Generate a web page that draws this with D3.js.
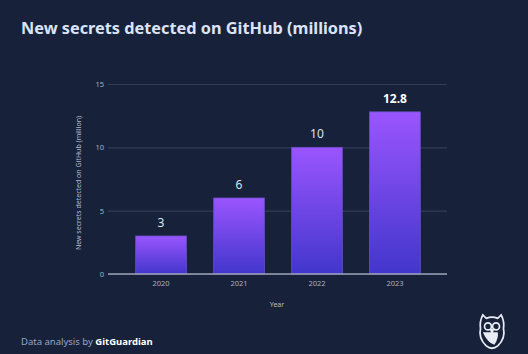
<!DOCTYPE html>
<meta charset="utf-8">
<script src="https://d3js.org/d3.v7.min.js"></script>
<style>
  body { margin:0; background:#17213a; }
  text { font-family: "Noto Sans", sans-serif; }
</style>
<div id="chart"></div>
<script>
const years = ["2020", "2021", "2022", "2023"];
const secrets = [3, 6, 10, 12.8];
const yTicks = [0, 5, 10, 15];

const W = 528, H = 354;
const svg = d3.select("#chart").append("svg")
    .attr("width", W).attr("height", H);

svg.append("rect").attr("width", W).attr("height", H).attr("fill", "#17213a");

const defs = svg.append("defs");
const grad = defs.append("linearGradient")
    .attr("id", "barGrad").attr("x1", 0).attr("y1", 0).attr("x2", 0).attr("y2", 1);
grad.append("stop").attr("offset", "0%").attr("stop-color", "#9a55ff");
grad.append("stop").attr("offset", "100%").attr("stop-color", "#4236cc");

// title
svg.append("text")
    .attr("x", 21).attr("y", 34)
    .attr("font-size", 16.3).attr("font-weight", 700)
    .attr("fill", "#dbe4f6")
    .text("New secrets detected on GitHub (millions)");

const x = d3.scaleBand().domain(years).range([135.7, 420.3])
    .paddingInner(0.35).paddingOuter(0);
const y = d3.scaleLinear().domain([0, 15]).range([274, 84]);

// grid
svg.append("g")
    .attr("transform", "translate(108,0)")
    .call(d3.axisLeft(y).tickValues(yTicks).tickSize(-339).tickPadding(4))
    .call(g => g.select(".domain").remove())
    .call(g => g.selectAll(".tick line").attr("stroke", "#323c57").attr("stroke-width", 1.2))
    .call(g => g.selectAll(".tick text").attr("fill", "#a9b1c4").attr("font-size", 7.5)
        .attr("font-family", "'Noto Sans', sans-serif"));

// bars
svg.append("g").selectAll("rect")
    .data(secrets)
    .join("rect")
    .attr("x", (d, i) => x(years[i]))
    .attr("y", d => y(d))
    .attr("width", x.bandwidth())
    .attr("height", d => y(0) - y(d))
    .attr("fill", "url(#barGrad)")
    .attr("stroke", "#6a50c8")
    .attr("stroke-width", 0.8);

// value labels
svg.append("g").selectAll("text")
    .data(secrets)
    .join("text")
    .attr("x", (d, i) => x(years[i]) + x.bandwidth() / 2)
    .attr("y", d => y(d) - 9)
    .attr("text-anchor", "middle")
    .attr("font-size", 12)
    .attr("font-weight", (d, i) => i === secrets.length - 1 ? 700 : 400)
    .attr("fill", (d, i) => i === secrets.length - 1 ? "#ffffff" : "#dde3ef")
    .text(d => d);

// x axis
svg.append("g")
    .attr("transform", "translate(0,274)")
    .call(d3.axisBottom(x).tickSize(0).tickPadding(7))
    .call(g => g.select(".domain").attr("d", "M108,0H447").attr("stroke", "#9aa2b4").attr("stroke-width", 1.5))
    .call(g => g.selectAll(".tick text").attr("fill", "#a9b1c4").attr("font-size", 7.5)
        .attr("font-family", "'Noto Sans', sans-serif"));

// axis titles
svg.append("text")
    .attr("transform", "translate(81,183) rotate(-90)")
    .attr("text-anchor", "middle")
    .attr("font-size", 7).attr("fill", "#b4bccd")
    .text("New secrets detected on GitHub (million)");

svg.append("text")
    .attr("x", 277).attr("y", 307)
    .attr("text-anchor", "middle")
    .attr("font-size", 7).attr("fill", "#b4bccd")
    .text("Year");

// footer
const foot = svg.append("text")
    .attr("x", 21).attr("y", 345)
    .attr("font-size", 9.5).attr("fill", "#9aa6c2");
foot.append("tspan").text("Data analysis by ");
foot.append("tspan").attr("font-weight", 700).attr("fill", "#ffffff").text("GitGuardian");

// owl logo
const owl = svg.append("g").attr("transform", "translate(492,331) scale(1.15)")
    .attr("fill", "none").attr("stroke", "#e8ecf4").attr("stroke-width", 1.5);
owl.append("path")
    .attr("d", "M-8,-14 L-5,-11 Q0,-13 5,-11 L8,-14 Q11,-8 10,-2 Q12,6 5,13 Q0,17 -5,13 Q-12,6 -10,-2 Q-11,-8 -8,-14 Z");
owl.append("circle").attr("cx", -3.5).attr("cy", -4).attr("r", 3);
owl.append("circle").attr("cx", 3.5).attr("cy", -4).attr("r", 3);
owl.append("path").attr("d", "M-8,1 Q-4,10 2,12 Q6,6 5,1").attr("fill", "#e8ecf4").attr("stroke", "none");
owl.append("path").attr("d", "M-1,-1 L0,1.5 L1,-1 Z").attr("fill", "#e8ecf4");
</script>
